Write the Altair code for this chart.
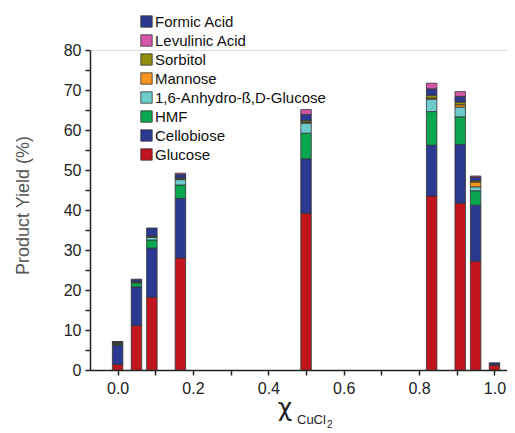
import altair as alt
import pandas as pd

x_vals = [0.0, 0.05, 0.0909, 0.1667, 0.5, 0.8333, 0.9091, 0.95, 1.0]
glucose = [1.4, 11.1, 18.2, 28.0, 39.2, 43.5, 41.7, 27.2, 1.2]
cellobiose = [4.7, 9.7, 12.3, 14.9, 13.6, 12.7, 14.7, 14.0, 0.2]
hmf = [0.3, 1.0, 2.0, 3.35, 6.4, 8.4, 6.9, 3.6, 0.0]
anhydro = [0.1, 0.2, 0.7, 1.35, 2.5, 3.1, 2.4, 1.0, 0.0]
mannose = [0.2, 0.1, 0.1, 0.1, 0.2, 0.3, 0.6, 1.2, 0.0]
sorbitol = [0.1, 0.1, 0.2, 0.3, 0.4, 0.7, 0.7, 0.3, 0.0]
formic = [0.25, 0.5, 2.0, 0.85, 1.6, 1.6, 1.4, 0.9, 0.4]
levulinic = [0.05, 0.0, 0.0, 0.35, 1.2, 1.4, 1.2, 0.3, 0.0]

stack_names = ["Glucose", "Cellobiose", "HMF", "1,6-Anhydro-ß,D-Glucose",
               "Mannose", "Sorbitol", "Formic Acid", "Levulinic Acid"]
stack_series = [glucose, cellobiose, hmf, anhydro, mannose, sorbitol, formic, levulinic]
legend_order = ["Formic Acid", "Levulinic Acid", "Sorbitol", "Mannose",
                "1,6-Anhydro-ß,D-Glucose", "HMF", "Cellobiose", "Glucose"]
legend_colors = ["#2B3990", "#D456A9", "#8F8E0E", "#F7941D",
                 "#6DCBCB", "#0BA650", "#2B3990", "#C1151E"]

rows = []
for i, (name, vals) in enumerate(zip(stack_names, stack_series)):
    for x, v in zip(x_vals, vals):
        if v > 0:
            rows.append({"x": x, "product": name, "value": v, "ord": i})
df = pd.DataFrame(rows)

FONT = "Liberation Sans"
PLOT_H = 320

bars = alt.Chart(df).mark_bar(width=10.5, stroke="#333333", strokeWidth=0.8).encode(
    x=alt.X("x:Q", scale=alt.Scale(domain=[-0.06, 1.02], nice=False, zero=False),
            axis=alt.Axis(values=[round(i * 0.1, 1) for i in range(11)],
                          labelExpr="round(datum.value*10) % 2 == 0 ? format(datum.value, '.1f') : ''",
                          title=None, grid=False, tickSize=5, labelFontSize=16,
                          labelPadding=5, labelColor="#222222", labelFont=FONT,
                          domainColor="#222222", tickColor="#222222",
                          domainWidth=1.5, tickWidth=1.5)),
    y=alt.Y("sum(value):Q", stack="zero",
            scale=alt.Scale(domain=[0, 80], nice=False),
            axis=alt.Axis(values=list(range(0, 81, 5)),
                          labelExpr="datum.value % 10 == 0 ? datum.value : ''",
                          title="Product Yield (%)", titleFontSize=18,
                          titleFont=FONT, titleFontWeight="normal",
                          titleColor="#555555", titleAngle=-90,
                          titleX=-67, titleY=155, titleAlign="center",
                          titleBaseline="middle",
                          grid=False, tickSize=5, labelFontSize=16,
                          labelPadding=4, labelColor="#222222", labelFont=FONT,
                          domainColor="#222222", tickColor="#222222",
                          domainWidth=1.5, tickWidth=1.5)),
    color=alt.Color("product:N",
                    scale=alt.Scale(domain=legend_order, range=legend_colors),
                    legend=alt.Legend(title=None, orient="none", legendX=49, legendY=-36,
                                      symbolType="square", symbolSize=130,
                                      symbolStrokeColor="#333333", symbolStrokeWidth=0.8,
                                      symbolOpacity=1, labelLimit=400,
                                      labelFontSize=15, labelFont=FONT, labelColor="#111111",
                                      rowPadding=3, padding=0, labelOffset=1)),
    order=alt.Order("ord:Q", sort="ascending"),
)

chi = alt.Chart(pd.DataFrame({"t": ["χ"]})).mark_text(
    fontSize=25, font="DejaVu Sans", color="#222222", align="center", baseline="alphabetic"
).encode(text="t:N", x=alt.value(195), y=alt.value(PLOT_H + 46))

sub1 = alt.Chart(pd.DataFrame({"t": ["CuCl"]})).mark_text(
    fontSize=13, font=FONT, color="#222222", align="left", baseline="alphabetic"
).encode(text="t:N", x=alt.value(207), y=alt.value(PLOT_H + 54))

sub2 = alt.Chart(pd.DataFrame({"t": ["2"]})).mark_text(
    fontSize=10, font=FONT, color="#222222", align="left", baseline="alphabetic"
).encode(text="t:N", x=alt.value(237), y=alt.value(PLOT_H + 58))

chart = alt.layer(bars, chi, sub1, sub2).properties(
    width=417, height=PLOT_H,
    autosize=alt.AutoSizeParams(type="none"),
    padding={"left": 82, "top": 42, "right": 0, "bottom": 61},
).configure_view(stroke=None).configure(background="white")

chart.save("out.html", embed_options={"renderer": "svg", "actions": False})
